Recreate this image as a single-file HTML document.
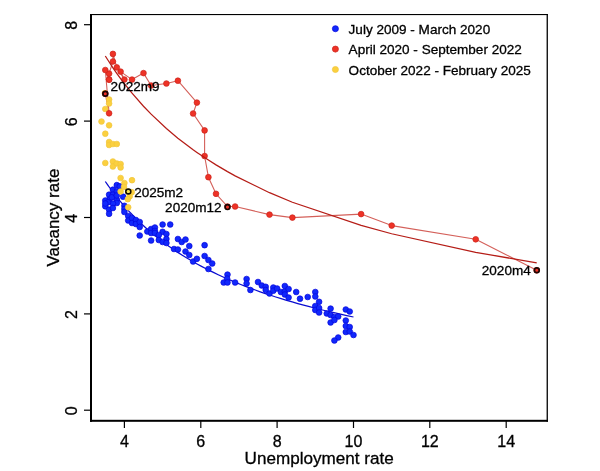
<!DOCTYPE html>
<html><head><meta charset="utf-8"><style>
html,body{margin:0;padding:0;background:#fff}
svg{display:block;will-change:transform}
text{font-family:"Liberation Sans",sans-serif;fill:#000;stroke:#000;stroke-width:0.3px}
</style></head><body>
<svg width="600" height="471" viewBox="0 0 600 471">
<rect x="0" y="0" width="600" height="471" fill="#fff"/>
<g fill="none" stroke-linecap="butt">
<path d="M105.31,181.50 L107.67,184.90 L110.07,188.24 L112.51,191.54 L115.00,194.78 L117.53,197.98 L120.10,201.13 L122.72,204.24 L125.39,207.30 L128.10,210.31 L130.86,213.28 L133.67,216.20 L136.53,219.08 L139.44,221.92 L142.40,224.71 L145.41,227.47 L148.48,230.18 L151.60,232.85 L154.78,235.49 L158.01,238.08 L161.30,240.64 L164.65,243.16 L168.05,245.64 L171.52,248.08 L175.05,250.49 L178.63,252.86 L182.29,255.19 L186.01,257.50 L189.79,259.76 L193.64,262.00 L197.56,264.20 L201.54,266.37 L205.60,268.50 L209.73,270.61 L213.93,272.68 L218.21,274.72 L222.56,276.73 L226.99,278.72 L231.49,280.67 L236.08,282.59 L240.75,284.49 L245.50,286.35 L250.33,288.19 L255.25,290.00 L260.25,291.79 L265.35,293.55 L270.53,295.28 L275.80,296.99 L281.17,298.67 L286.63,300.33 L292.19,301.96 L297.85,303.56 L303.61,305.15 L309.47,306.71 L315.43,308.25 L321.50,309.76 L327.67,311.25 L333.96,312.72 L340.35,314.17 L346.86,315.59 L353.48,317.00" stroke="#0a0cd0" stroke-width="1.25"/>
</g>
<g fill="#1128fb" stroke="#0404dc" stroke-width="0.7"><circle cx="116.8" cy="185.1" r="2.85"/><circle cx="112.9" cy="189.7" r="2.85"/><circle cx="116.8" cy="191.3" r="2.85"/><circle cx="109.1" cy="194.7" r="2.85"/><circle cx="112.9" cy="194.7" r="2.85"/><circle cx="109.1" cy="199.7" r="2.85"/><circle cx="105.3" cy="200.5" r="2.85"/><circle cx="105.3" cy="206.3" r="2.85"/><circle cx="109.1" cy="209.7" r="2.85"/><circle cx="109.1" cy="213.8" r="2.85"/><circle cx="116.8" cy="199.7" r="2.85"/><circle cx="116.8" cy="203.0" r="2.85"/><circle cx="112.9" cy="203.5" r="2.85"/><circle cx="112.9" cy="208.0" r="2.85"/><circle cx="123.1" cy="196.7" r="2.85"/><circle cx="108.0" cy="202.3" r="2.85"/><circle cx="111.8" cy="197.3" r="2.85"/><circle cx="105.3" cy="203.5" r="2.85"/><circle cx="116.8" cy="195.5" r="2.85"/><circle cx="119.8" cy="186.3" r="2.85"/><circle cx="124.4" cy="205.8" r="2.85"/><circle cx="124.4" cy="209.0" r="2.85"/><circle cx="124.4" cy="212.0" r="2.85"/><circle cx="128.2" cy="216.0" r="2.85"/><circle cx="128.2" cy="220.5" r="2.85"/><circle cx="132.0" cy="218.0" r="2.85"/><circle cx="132.0" cy="223.0" r="2.85"/><circle cx="135.9" cy="220.0" r="2.85"/><circle cx="135.9" cy="224.0" r="2.85"/><circle cx="139.7" cy="222.0" r="2.85"/><circle cx="139.7" cy="227.0" r="2.85"/><circle cx="139.7" cy="235.5" r="2.85"/><circle cx="147.3" cy="231.5" r="2.85"/><circle cx="151.1" cy="229.0" r="2.85"/><circle cx="151.1" cy="233.0" r="2.85"/><circle cx="154.9" cy="227.5" r="2.85"/><circle cx="154.9" cy="231.0" r="2.85"/><circle cx="154.9" cy="233.0" r="2.85"/><circle cx="151.1" cy="240.5" r="2.85"/><circle cx="162.6" cy="224.5" r="2.85"/><circle cx="170.2" cy="224.5" r="2.85"/><circle cx="162.6" cy="231.8" r="2.85"/><circle cx="166.4" cy="234.0" r="2.85"/><circle cx="158.8" cy="235.0" r="2.85"/><circle cx="158.8" cy="240.0" r="2.85"/><circle cx="166.4" cy="239.0" r="2.85"/><circle cx="162.6" cy="242.0" r="2.85"/><circle cx="166.4" cy="243.0" r="2.85"/><circle cx="177.9" cy="239.0" r="2.85"/><circle cx="181.7" cy="242.0" r="2.85"/><circle cx="185.5" cy="239.5" r="2.85"/><circle cx="189.3" cy="246.0" r="2.85"/><circle cx="204.6" cy="245.2" r="2.85"/><circle cx="174.0" cy="249.0" r="2.85"/><circle cx="177.9" cy="249.5" r="2.85"/><circle cx="185.5" cy="251.5" r="2.85"/><circle cx="189.3" cy="255.0" r="2.85"/><circle cx="193.1" cy="261.5" r="2.85"/><circle cx="196.9" cy="258.8" r="2.85"/><circle cx="204.6" cy="256.0" r="2.85"/><circle cx="208.4" cy="260.0" r="2.85"/><circle cx="212.2" cy="263.5" r="2.85"/><circle cx="208.4" cy="269.0" r="2.85"/><circle cx="227.5" cy="274.6" r="2.85"/><circle cx="227.1" cy="278.6" r="2.85"/><circle cx="223.7" cy="282.5" r="2.85"/><circle cx="227.5" cy="282.5" r="2.85"/><circle cx="235.1" cy="282.5" r="2.85"/><circle cx="246.6" cy="279.0" r="2.85"/><circle cx="246.6" cy="283.5" r="2.85"/><circle cx="250.4" cy="290.0" r="2.85"/><circle cx="258.0" cy="282.0" r="2.85"/><circle cx="261.8" cy="285.5" r="2.85"/><circle cx="265.7" cy="286.8" r="2.85"/><circle cx="265.7" cy="290.0" r="2.85"/><circle cx="269.5" cy="293.5" r="2.85"/><circle cx="273.3" cy="287.5" r="2.85"/><circle cx="273.3" cy="290.7" r="2.85"/><circle cx="277.1" cy="288.5" r="2.85"/><circle cx="280.9" cy="292.0" r="2.85"/><circle cx="284.8" cy="286.0" r="2.85"/><circle cx="284.8" cy="291.5" r="2.85"/><circle cx="284.8" cy="294.5" r="2.85"/><circle cx="288.6" cy="289.0" r="2.85"/><circle cx="288.6" cy="297.5" r="2.85"/><circle cx="296.2" cy="292.0" r="2.85"/><circle cx="300.0" cy="298.7" r="2.85"/><circle cx="307.7" cy="297.0" r="2.85"/><circle cx="315.3" cy="292.0" r="2.85"/><circle cx="315.3" cy="296.5" r="2.85"/><circle cx="319.1" cy="301.8" r="2.85"/><circle cx="315.3" cy="306.0" r="2.85"/><circle cx="315.3" cy="310.0" r="2.85"/><circle cx="319.1" cy="308.0" r="2.85"/><circle cx="319.1" cy="312.5" r="2.85"/><circle cx="330.6" cy="308.6" r="2.85"/><circle cx="326.8" cy="313.5" r="2.85"/><circle cx="330.6" cy="315.0" r="2.85"/><circle cx="334.4" cy="317.0" r="2.85"/><circle cx="338.2" cy="316.5" r="2.85"/><circle cx="330.6" cy="322.5" r="2.85"/><circle cx="334.4" cy="320.0" r="2.85"/><circle cx="345.8" cy="309.5" r="2.85"/><circle cx="349.7" cy="311.5" r="2.85"/><circle cx="345.8" cy="320.5" r="2.85"/><circle cx="345.8" cy="326.0" r="2.85"/><circle cx="349.7" cy="327.0" r="2.85"/><circle cx="345.8" cy="332.0" r="2.85"/><circle cx="349.7" cy="331.5" r="2.85"/><circle cx="353.5" cy="335.0" r="2.85"/><circle cx="338.2" cy="337.5" r="2.85"/><circle cx="334.4" cy="340.5" r="2.85"/></g>
<path d="M536.7,270.3 L475.7,239.3 L391.7,225.6 L361.1,214.1 L292.4,217.6 L269.5,214.6 L235.1,206.5 L227.5,206.5 L216.0,193.8 L208.4,177.2 L204.6,156.0 L204.6,130.4 L193.1,113.5 L196.9,102.6 L177.9,80.7 L166.4,83.5 L151.1,85.5 L143.5,73.1 L132.0,79.6 L120.6,71.6 L124.4,79.5 L116.8,67.4 L112.9,53.9 L112.9,61.5 L109.1,73.6 L109.1,79.6 L105.3,70.0 L109.1,113.3 L105.3,93.7" fill="none" stroke="#d4605a" stroke-width="1.1" stroke-linejoin="round"/>
<g fill="#fbd03f" stroke="#f0c53c" stroke-width="0.7"><circle cx="104.9" cy="93.2" r="2.85"/><circle cx="109.1" cy="99.5" r="2.85"/><circle cx="109.1" cy="103.5" r="2.85"/><circle cx="105.3" cy="109.0" r="2.85"/><circle cx="101.5" cy="121.5" r="2.85"/><circle cx="109.1" cy="125.3" r="2.85"/><circle cx="105.3" cy="133.7" r="2.85"/><circle cx="109.1" cy="142.0" r="2.85"/><circle cx="109.1" cy="145.0" r="2.85"/><circle cx="112.9" cy="144.0" r="2.85"/><circle cx="116.8" cy="144.0" r="2.85"/><circle cx="105.3" cy="163.0" r="2.85"/><circle cx="112.9" cy="161.5" r="2.85"/><circle cx="112.9" cy="166.5" r="2.85"/><circle cx="116.8" cy="163.5" r="2.85"/><circle cx="120.6" cy="164.0" r="2.85"/><circle cx="120.6" cy="167.5" r="2.85"/><circle cx="120.6" cy="178.0" r="2.85"/><circle cx="132.0" cy="180.2" r="2.85"/><circle cx="124.4" cy="183.0" r="2.85"/><circle cx="120.6" cy="191.5" r="2.85"/><circle cx="131.7" cy="192.2" r="2.85"/><circle cx="129.7" cy="196.3" r="2.85"/><circle cx="127.8" cy="199.2" r="2.85"/><circle cx="128.2" cy="207.3" r="2.85"/><circle cx="128.2" cy="191.5" r="2.85"/><circle cx="124.0" cy="186.9" r="2.85"/></g>
<g fill="#ee3226" stroke="#cb241b" stroke-width="0.7"><circle cx="536.7" cy="270.3" r="2.85"/><circle cx="475.7" cy="239.3" r="2.85"/><circle cx="391.7" cy="225.6" r="2.85"/><circle cx="361.1" cy="214.1" r="2.85"/><circle cx="292.4" cy="217.6" r="2.85"/><circle cx="269.5" cy="214.6" r="2.85"/><circle cx="235.1" cy="206.5" r="2.85"/><circle cx="227.5" cy="206.5" r="2.85"/><circle cx="216.0" cy="193.8" r="2.85"/><circle cx="208.4" cy="177.2" r="2.85"/><circle cx="204.6" cy="156.0" r="2.85"/><circle cx="204.6" cy="130.4" r="2.85"/><circle cx="193.1" cy="113.5" r="2.85"/><circle cx="196.9" cy="102.6" r="2.85"/><circle cx="177.9" cy="80.7" r="2.85"/><circle cx="166.4" cy="83.5" r="2.85"/><circle cx="151.1" cy="85.5" r="2.85"/><circle cx="143.5" cy="73.1" r="2.85"/><circle cx="132.0" cy="79.6" r="2.85"/><circle cx="124.4" cy="79.5" r="2.85"/><circle cx="120.6" cy="71.6" r="2.85"/><circle cx="116.8" cy="67.4" r="2.85"/><circle cx="109.1" cy="73.6" r="2.85"/><circle cx="109.1" cy="79.6" r="2.85"/><circle cx="112.9" cy="61.5" r="2.85"/><circle cx="112.9" cy="53.9" r="2.85"/><circle cx="109.1" cy="79.6" r="2.85"/><circle cx="105.3" cy="70.0" r="2.85"/><circle cx="109.1" cy="113.3" r="2.85"/><circle cx="105.3" cy="93.7" r="2.85"/></g>
<path d="M105.31,56.00 L109.13,62.02 L112.95,67.78 L116.76,73.29 L120.58,78.57 L124.40,83.64 L132.04,93.19 L143.49,106.23 L151.13,114.16 L166.40,128.52 L177.85,138.14 L193.12,149.72 L196.94,152.42 L204.58,157.59 L208.40,160.08 L216.03,164.87 L227.49,171.61 L235.12,175.84 L269.48,192.69 L292.39,202.28 L361.12,225.45 L391.66,233.75 L475.66,252.28 L536.74,262.90" fill="none" stroke="#b51c16" stroke-width="1.25"/>
<g fill="none" stroke="#1c0604" stroke-width="1.7">
<circle cx="536.8" cy="270.2" r="2.4"/>
<circle cx="227.5" cy="207.1" r="2.4"/>
<circle cx="105.3" cy="93.8" r="2.4"/>
<circle cx="128.3" cy="191.5" r="2.45" stroke="#141000"/>
</g>
<circle cx="128.3" cy="191.5" r="1.5" fill="#f6e255"/>
<g font-size="13.55">
<text x="110.6" y="90.7">2022m9</text>
<text x="134.2" y="196.7">2025m2</text>
<text x="165.1" y="212.3">2020m12</text>
<text x="481.8" y="275.4">2020m4</text>
</g>
<g fill="#000">
<rect x="90" y="14" width="2" height="407.8"/>
<rect x="90" y="419.8" width="457.9" height="2"/>
<rect x="90" y="14" width="457.9" height="1.1"/>
<rect x="546.6" y="14" width="1.3" height="407.8"/>
</g>
<g stroke="#000" stroke-width="1.2"><line x1="124.4" y1="421" x2="124.4" y2="428"/><line x1="200.8" y1="421" x2="200.8" y2="428"/><line x1="277.1" y1="421" x2="277.1" y2="428"/><line x1="353.5" y1="421" x2="353.5" y2="428"/><line x1="429.8" y1="421" x2="429.8" y2="428"/><line x1="506.2" y1="421" x2="506.2" y2="428"/><line x1="84" y1="410.2" x2="90.5" y2="410.2"/><line x1="84" y1="313.9" x2="90.5" y2="313.9"/><line x1="84" y1="217.5" x2="90.5" y2="217.5"/><line x1="84" y1="121.1" x2="90.5" y2="121.1"/><line x1="84" y1="24.7" x2="90.5" y2="24.7"/></g>
<g font-size="16"><text x="124.4" y="446.8" text-anchor="middle">4</text><text x="200.8" y="446.8" text-anchor="middle">6</text><text x="277.1" y="446.8" text-anchor="middle">8</text><text x="353.5" y="446.8" text-anchor="middle">10</text><text x="429.8" y="446.8" text-anchor="middle">12</text><text x="506.2" y="446.8" text-anchor="middle">14</text><text transform="translate(76.9,410.9) rotate(-90)" text-anchor="middle">0</text><text transform="translate(76.9,314.6) rotate(-90)" text-anchor="middle">2</text><text transform="translate(76.9,218.2) rotate(-90)" text-anchor="middle">4</text><text transform="translate(76.9,121.8) rotate(-90)" text-anchor="middle">6</text><text transform="translate(76.9,25.4) rotate(-90)" text-anchor="middle">8</text></g>
<text font-size="17" transform="translate(58.6,217.6) rotate(-90)" text-anchor="middle">Vacancy rate</text>
<text font-size="17.1" x="319.2" y="464" text-anchor="middle">Unemployment rate</text>
<circle cx="335.4" cy="28.7" r="3.05" fill="#1128fb" stroke="#0404dc" stroke-width="0.7"/>
<circle cx="335.4" cy="49.1" r="3.05" fill="#ee3226" stroke="#cb241b" stroke-width="0.7"/>
<circle cx="335.4" cy="69.5" r="3.05" fill="#fbd03f" stroke="#f0c53c" stroke-width="0.7"/>
<g font-size="13.55">
<text x="348.6" y="33.9">July 2009 - March 2020</text>
<text x="348.6" y="54.3">April 2020 - September 2022</text>
<text x="348.6" y="74.7">October 2022 - February 2025</text>
</g>
</svg>
</body></html>
